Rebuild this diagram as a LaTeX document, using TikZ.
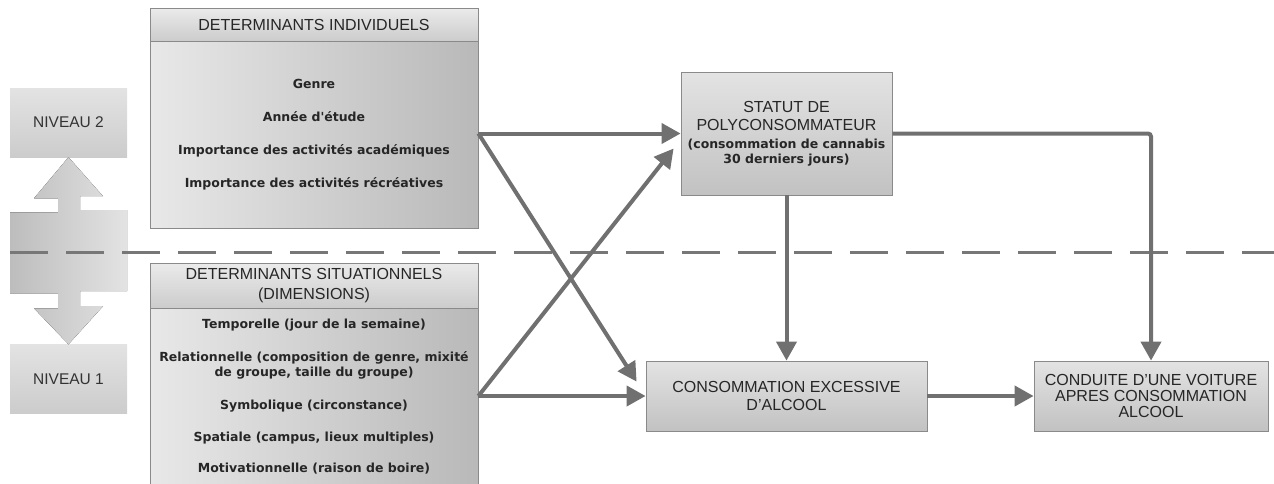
\documentclass[tikz,border=0pt]{standalone}
\usepackage{fontspec}
\setmainfont{Liberation Sans}
\newfontfamily\bodyfont{DejaVu Sans}
\usetikzlibrary{arrows.meta,calc}
\definecolor{boxline}{HTML}{8A8A8A}
\definecolor{flowgray}{HTML}{707070}
\definecolor{dashgray}{HTML}{777777}
\newcommand\listfont{\bodyfont\bfseries\fontsize{12.5}{15}\selectfont}
\tikzset{
  headtext/.style={font=\fontsize{16}{18}\selectfont, text=black!85, align=center},
  bodytext/.style={font=\listfont, text=black!85, align=center},
  panel/.style={draw=boxline, line width=0.8pt, left color=gray!18, right color=gray!55, inner sep=0pt},
  panelhead/.style={headtext, draw=boxline, line width=0.8pt, top color=gray!16, bottom color=gray!40, inner sep=0pt},
  flowbox/.style={headtext, draw=boxline, line width=0.8pt, top color=gray!22, bottom color=gray!48, inner sep=0pt},
  levelbox/.style={top color=gray!22, bottom color=gray!40, minimum width=117pt, minimum height=69pt,
    font=\fontsize{15.5}{18}\selectfont, text=black!80},
  flow/.style={-{Triangle[length=19pt,width=20pt]}, line width=4pt, draw=flowgray},
  divider/.style={draw=dashgray, line width=3pt, dash pattern=on 38pt off 18pt}
}
\begin{document}
\begin{tikzpicture}[x=1pt,y=-1pt]
    \useasboundingbox (0,0) rectangle (1274,483);
    \clip (0,0) rectangle (1274,483);
    % niveaux
    \node[levelbox] (niv2) at (68.5,122.5) {NIVEAU 2};
    \node[levelbox] (niv1) at (68.5,379) {NIVEAU 1};
    \fill[left color=gray!52, right color=gray!22] (niv2.south) -- ++(34.5,39) -- ++(-23,0)
        -- ++(0,14) -- ++(47,0) -- ++(0,81) -- ++(-47,0) -- ++(0,15) -- ++(23,0)
        -- (niv1.north) -- ++(-34.5,-36) -- ++(24,0) -- ++(0,-15) -- ++(-48,0)
        -- ++(0,-81) -- ++(48,0) -- ++(0,-14) -- ++(-24,0) -- cycle;
    \draw[divider] (10,252) -- (1274,252);
    % determinants individuels
    \node[panel, minimum width=328pt, minimum height=220pt] (indiv) at (314,118) {};
    \node[panelhead, minimum width=328pt, minimum height=33pt, anchor=north] (indivhead) at (indiv.north)
        {DETERMINANTS INDIVIDUELS};
    \node[bodytext] (indivlist) at (314,135) {Genre\\[18pt]Année d'étude\\[18pt]Importance des activités académiques\\[18pt]Importance des activités récréatives};
    % determinants situationnels
    \node[panel, minimum width=328pt, minimum height=235pt] (situ) at (314,380.5) {};
    \node[panelhead, minimum width=328pt, minimum height=45pt, anchor=north] (situhead) at (situ.north)
        {DETERMINANTS SITUATIONNELS\\[2pt](DIMENSIONS)};
    \node[bodytext] (situlist) at (314,397) {Temporelle (jour de la semaine)\\[18pt]Relationnelle (composition de genre, mixité\\de groupe, taille du groupe)\\[18pt]Symbolique (circonstance)\\[17pt]Spatiale (campus, lieux multiples)\\[16pt]Motivationnelle (raison de boire)};
    % issues
    \node[flowbox, minimum width=211pt, minimum height=123pt] (statut) at (786.5,133.5)
        {STATUT DE\\POLYCONSOMMATEUR\\{\listfont (consommation de cannabis}\\[-3pt]{\listfont 30 derniers jours)}};
    \node[flowbox, minimum width=281pt, minimum height=70pt] (conso) at (786.5,396)
        {CONSOMMATION EXCESSIVE\\D'ALCOOL};
    \node[flowbox, minimum width=234pt, minimum height=70pt] (conduite) at (1151,396)
        {CONDUITE D'UNE VOITURE\\[-2pt]APRES CONSOMMATION\\[-2pt]ALCOOL};
    % liens
    \draw[flow] (indiv.east |- statut.west) -- (statut.west);
    \draw[flow] (indiv.east |- statut.west) -- ($(conso.north west)+(-9,21)$);
    \draw[flow] (situ.east |- conso.west) -- ($(statut.west)+(-7,15)$);
    \draw[flow] (situ.east |- conso.west) -- (conso.west);
    \draw[flow] (statut.south) -- (conso.north);
    \draw[flow, rounded corners=3pt] (statut.east) -| (conduite.north);
    \draw[flow] (conso.east) -- (conduite.west);
\end{tikzpicture}
\end{document}
